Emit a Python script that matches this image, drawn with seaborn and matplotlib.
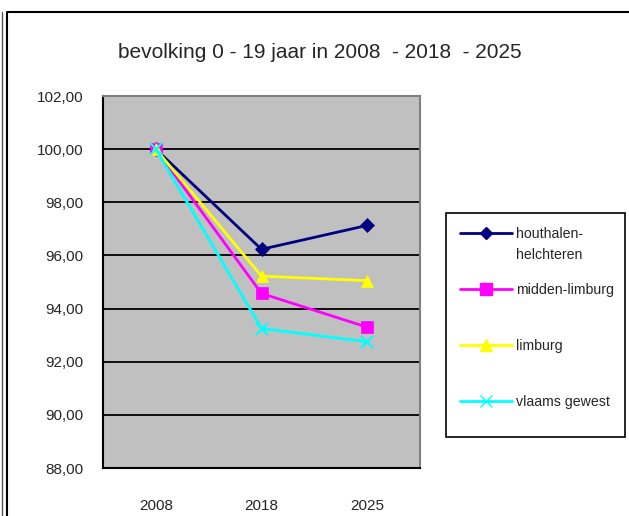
import matplotlib
matplotlib.use("Agg")
import matplotlib.pyplot as plt
import matplotlib.lines as mlines
import matplotlib.patches as mpatches
import seaborn as sns
import pandas as pd
from matplotlib import font_manager

years = ["2008", "2018", "2025"]
series_names = ["houthalen-\nhelchteren", "midden-limburg", "limburg", "vlaams gewest"]
houthalen = [100.0, 96.23, 97.13]
midden_limburg = [100.0, 94.57, 93.30]
limburg = [100.0, 95.22, 95.05]
vlaams_gewest = [100.0, 93.25, 92.75]
yticks = [88, 90, 92, 94, 96, 98, 100, 102]
title = "bevolking 0 - 19 jaar in 2008  - 2018  - 2025"

colors = ["#000080", "#FF00FF", "#FFFF00", "#00FFFF"]
markers = ["D", "s", "^", "x"]
msizes = [7, 9, 9, 9]

avail = {f.name for f in font_manager.fontManager.ttflist}
fam = "Liberation Sans Narrow" if "Liberation Sans Narrow" in avail else "Liberation Sans"

sns.set_style("white")
plt.rcParams["font.family"] = [fam, "DejaVu Sans"]

rows = []
for name, vals in zip(series_names, [houthalen, midden_limburg, limburg, vlaams_gewest]):
    for i, v in enumerate(vals):
        rows.append({"pos": i, "year": years[i], "series": name, "value": v})
df = pd.DataFrame(rows)

W, H = 629, 516
fig = plt.figure(figsize=(W / 100, H / 100), dpi=100)
ax = fig.add_axes([103 / W, 1 - 468 / H, (420 - 103) / W, (468 - 96) / H])
ax.set_facecolor("#C0C0C0")

handles = []
for name, c, m, ms in zip(series_names, colors, markers, msizes):
    sub = df[df["series"] == name]
    sns.lineplot(data=sub, x="pos", y="value", ax=ax, color=c, marker=m,
                 markersize=ms, linewidth=2, markeredgecolor=c,
                 markeredgewidth=1.5 if m == "x" else 0.5, legend=False, zorder=3)
    first_line = name.split("\n")[0]
    handles.append(mlines.Line2D([], [], color=c, marker=m, markersize=ms - 1,
                                 linewidth=2, markeredgecolor=c, label=first_line))

ax.set_xlim(-0.5, len(years) - 0.5)
ax.set_ylim(yticks[0], yticks[-1])
ax.set_yticks(yticks)
ax.set_yticklabels([f"{v:.2f}".replace(".", ",") for v in yticks], fontsize=11)
ax.yaxis.grid(True, color="black", linewidth=1.3)
ax.set_axisbelow(True)
ax.set_xticks([i - 0.5 for i in range(len(years) + 1)])
ax.set_xticklabels([])
ax.set_xticks(range(len(years)), minor=True)
ax.set_xticklabels(years, minor=True, fontsize=11)
ax.tick_params(axis="x", which="major", length=6, direction="out", color="black", width=1)
ax.tick_params(axis="x", which="minor", length=0, pad=22)
ax.tick_params(axis="y", length=6, direction="out", color="black", width=1, pad=8)
ax.set_xlabel("")
ax.set_ylabel("")
for s in ["top", "right"]:
    ax.spines[s].set_color("#808080")
    ax.spines[s].set_linewidth(1.5)
for s in ["left", "bottom"]:
    ax.spines[s].set_color("black")
    ax.spines[s].set_linewidth(1.5)

fig.text(320 / W, 1 - 52 / H, title, ha="center", va="center", fontsize=15)

# legend box frame
fig.add_artist(mpatches.Rectangle((446 / W, 1 - 437 / H), (625 - 446) / W,
                                  (437 - 213) / H, transform=fig.transFigure,
                                  fill=False, edgecolor="black", linewidth=1.2))
lfs = 10.2
leg = fig.legend(handles=handles, loc="upper left",
                 bbox_to_anchor=(446 / W, 1 - 213 / H), frameon=False,
                 fontsize=lfs, handlelength=3.67, labelspacing=2.96,
                 borderpad=0.99, borderaxespad=0, handletextpad=0.3)

# second line of the first (two-line) legend label, placed under the first line
fig.canvas.draw()
bb = leg.texts[0].get_window_extent()
second_line = series_names[0].split("\n")[1]
fig.text(bb.x0 / W, (bb.y0 - 7) / H, second_line, ha="left", va="top", fontsize=lfs)

# outer chart frame (partially visible)
fig.add_artist(mlines.Line2D([8 / W, 1], [1 - 12 / H, 1 - 12 / H], color="black", linewidth=1.5))
fig.add_artist(mlines.Line2D([7 / W, 7 / W], [0, 1 - 12 / H], color="black", linewidth=1.5))
fig.add_artist(mlines.Line2D([2 / W, 2 / W], [0, 1 - 12 / H], color="#555555", linewidth=1))

fig.savefig("out.png", dpi=100)
